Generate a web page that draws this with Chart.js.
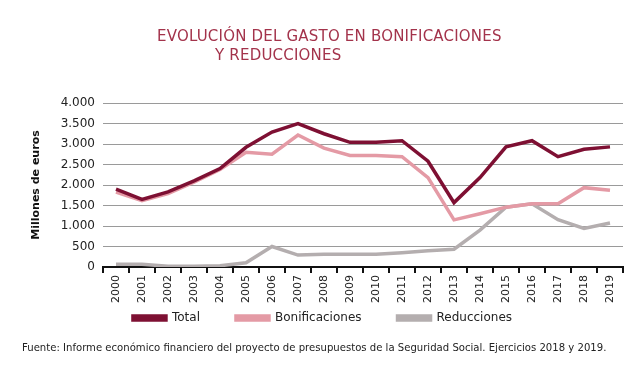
<!DOCTYPE html>
<html>
<head>
<meta charset="utf-8">
<script src="https://cdn.jsdelivr.net/npm/chart.js@4.4.1/dist/chart.umd.min.js"></script>
<style>
  html, body { margin: 0; padding: 0; background: #ffffff; }
  #wrap { position: relative; width: 639px; height: 365px; overflow: hidden; }
  #chart { position: absolute; left: 0; top: 0; }
  .title {
    position: absolute; color: #a3334b; font-family: "DejaVu Sans", sans-serif;
    font-size: 15px; white-space: nowrap; letter-spacing: 0.2px;
  }
  #source {
    position: absolute; left: 22px; top: 342px; color: #222;
    font-family: "DejaVu Sans", sans-serif; font-size: 10.1px; white-space: nowrap;
  }
</style>
</head>
<body>
<div id="wrap">
  <canvas id="chart" width="639" height="365"></canvas>
  <div class="title" style="left:157px; top:27px;">EVOLUCIÓN DEL GASTO EN BONIFICACIONES</div>
  <div class="title" style="left:215px; top:46px;">Y REDUCCIONES</div>
  <div id="source">Fuente: Informe económico financiero del proyecto de presupuestos de la Seguridad Social. Ejercicios 2018 y 2019.</div>
</div>
<script>
// Gasto en bonificaciones y reducciones, millones de euros
const years = ['2000', '2001', '2002', '2003', '2004', '2005', '2006', '2007', '2008', '2009',
  '2010', '2011', '2012', '2013', '2014', '2015', '2016', '2017', '2018', '2019'];
const total = [1900, 1650, 1830, 2100, 2400, 2920, 3290, 3500, 3250, 3040,
  3040, 3080, 2580, 1570, 2180, 2930, 3080, 2690, 2870, 2930];
const bonificaciones = [1830, 1620, 1790, 2070, 2380, 2800, 2750, 3220, 2900, 2720,
  2720, 2690, 2180, 1150, 1300, 1460, 1540, 1540, 1935, 1870];
const reducciones = [65, 65, 20, 20, 30, 105, 500, 290, 310, 312,
  312, 350, 395, 435, 900, 1460, 1540, 1155, 940, 1075];
const yTicks = [0, 500, 1000, 1500, 2000, 2500, 3000, 3500, 4000];

const fontFamily = '"DejaVu Sans", sans-serif';

function formatThousands(value) {
  return String(value).replace(/\B(?=(\d{3})+(?!\d))/g, '.');
}

function lineSet(label, data, color) {
  return {
    label: label,
    data: data,
    borderColor: color,
    backgroundColor: color,
    borderWidth: 3.5,
    pointRadius: 0,
    tension: 0,
    borderJoinStyle: 'miter'
  };
}

// la leyenda usa padding 36 para separar items; se sube para no dejar hueco
const raiseLegend = {
  id: 'raiseLegend',
  afterLayout(chart) {
    const legend = chart.legend;
    if (!legend) return;
    legend.top -= 27;
    legend.bottom -= 27;
  }
};

new Chart(document.getElementById('chart'), {
  type: 'line',
  data: {
    labels: years,
    datasets: [
      lineSet('Total', total, '#7e1033'),
      lineSet('Bonificaciones', bonificaciones, '#e49aa5'),
      lineSet('Reducciones', reducciones, '#b4aeaf')
    ]
  },
  plugins: [raiseLegend],
  options: {
    responsive: false,
    animation: false,
    layout: { padding: { top: 103, right: 16, bottom: 4, left: 22 } },
    plugins: {
      legend: {
        position: 'bottom',
        labels: {
          boxWidth: 33,
          boxHeight: 4,
          padding: 36,
          color: '#222',
          font: { family: fontFamily, size: 12 }
        }
      },
      tooltip: { enabled: false }
    },
    scales: {
      x: {
        offset: true,
        grid: {
          offset: true,
          drawOnChartArea: false,
          drawTicks: true,
          tickLength: 6,
          color: '#111',
          lineWidth: 2
        },
        border: { color: '#111', width: 2 },
        ticks: {
          minRotation: 90,
          maxRotation: 90,
          autoSkip: false,
          padding: 2,
          color: '#222',
          font: { family: fontFamily, size: 11 }
        },
        afterFit(scale) { scale.height = 36; }
      },
      y: {
        min: 0,
        max: 4000,
        afterBuildTicks(scale) {
          scale.ticks = yTicks.map((v) => ({ value: v }));
        },
        grid: { color: '#9a9a9a', lineWidth: 1, drawTicks: false },
        border: { display: false },
        ticks: {
          autoSkip: false,
          padding: 8,
          color: '#222',
          font: { family: fontFamily, size: 12 },
          callback: (value) => formatThousands(value)
        },
        title: {
          display: true,
          text: 'Millones de euros',
          color: '#111',
          padding: { top: 8, bottom: 0 },
          font: { family: fontFamily, size: 11, weight: 'bold' }
        },
        afterFit(scale) { scale.width = 81; }
      }
    }
  }
});
</script>
</body>
</html>
